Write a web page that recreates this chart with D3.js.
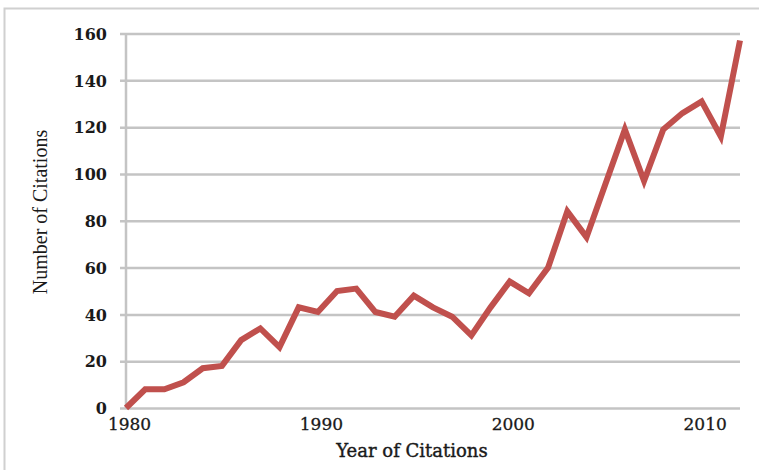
<!DOCTYPE html>
<html>
<head>
<meta charset="utf-8">
<script src="https://cdn.jsdelivr.net/npm/d3@7"></script>
<style>
  html, body { margin: 0; padding: 0; background: #fff; }
  svg { display: block; }
</style>
</head>
<body>
<svg id="chart" width="759" height="470"></svg>
<script>
const years = [1980,1981,1982,1983,1984,1985,1986,1987,1988,1989,1990,1991,1992,1993,1994,1995,1996,1997,1998,1999,2000,2001,2002,2003,2004,2005,2006,2007,2008,2009,2010,2011,2012];
const citations = [0,8,8,11,17,18,29,34,26,43,41,50,51,41,39,48,43,39,31,43,54,49,60,84,73,96,119,97,119,126,131,116,157];
const yTicks = [0,20,40,60,80,100,120,140,160];
const xTickLabels = [1980,1990,2000,2010];

const svg = d3.select("#chart");
const W = 759, H = 470;
const m = { left: 126, right: 19, top: 33.5, bottom: 62 };

// frame (top and left edges visible)
svg.append("path")
  .attr("d", `M4.5,${H} V8.5 H${W}`)
  .attr("fill", "none").attr("stroke", "#d0d0d0").attr("stroke-width", 2);

const x = d3.scaleLinear().domain([1980, 2012]).range([m.left, W - m.right]);
const y = d3.scaleLinear().domain([0, 160]).range([H - m.bottom, m.top]);

// gridlines
const yAxis = d3.axisLeft(y).tickValues(yTicks).tickSize(-(W - m.right - m.left)).tickPadding(0).tickFormat(d => d);
const gy = svg.append("g").attr("transform", `translate(${m.left},0)`).call(yAxis);
gy.select(".domain").remove();
gy.selectAll(".tick line").attr("stroke", "#c4c4c4").attr("stroke-width", 2.5).attr("x1", -6);
gy.selectAll(".tick text")
  .attr("x", -19).attr("dy", "0.36em")
  .attr("font-family", "'DejaVu Serif', serif").attr("font-weight", "bold")
  .attr("font-size", 16).attr("fill", "#1a1a1a");

// vertical axis line
svg.append("line")
  .attr("x1", m.left).attr("x2", m.left)
  .attr("y1", y(160)).attr("y2", y(0))
  .attr("stroke", "#c4c4c4").attr("stroke-width", 2.5);

// x axis labels
const xAxis = d3.axisBottom(x).tickValues(xTickLabels).tickSize(0).tickPadding(10).tickFormat(d3.format("d"));
const gx = svg.append("g").attr("transform", `translate(0,${y(0)})`).call(xAxis);
gx.select(".domain").remove();
gx.selectAll(".tick text")
  .attr("font-family", "'DejaVu Serif', serif").attr("font-size", 17).attr("fill", "#1a1a1a")
  .attr("stroke", "#1a1a1a").attr("stroke-width", 0.3)
  .attr("dx", 3);

// line
const line = d3.line().x((d, i) => x(years[i])).y(d => y(d));
svg.append("path")
  .datum(citations)
  .attr("d", line)
  .attr("fill", "none")
  .attr("stroke", "#c0504d")
  .attr("stroke-width", 6)
  .attr("stroke-linejoin", "miter")
  .attr("stroke-linecap", "butt");

// axis titles
svg.append("text")
  .attr("x", 412).attr("y", 457)
  .attr("text-anchor", "middle")
  .attr("font-family", "'DejaVu Serif', serif").attr("font-size", 18)
  .attr("fill", "#1a1a1a").attr("stroke", "#1a1a1a").attr("stroke-width", 0.4)
  .text("Year of Citations");

svg.append("text")
  .attr("transform", "translate(47,212) rotate(-90)")
  .attr("text-anchor", "middle")
  .attr("font-family", "'Liberation Serif', serif").attr("font-size", 20)
  .attr("fill", "#1a1a1a")
  .text("Number of Citations");
</script>
</body>
</html>
